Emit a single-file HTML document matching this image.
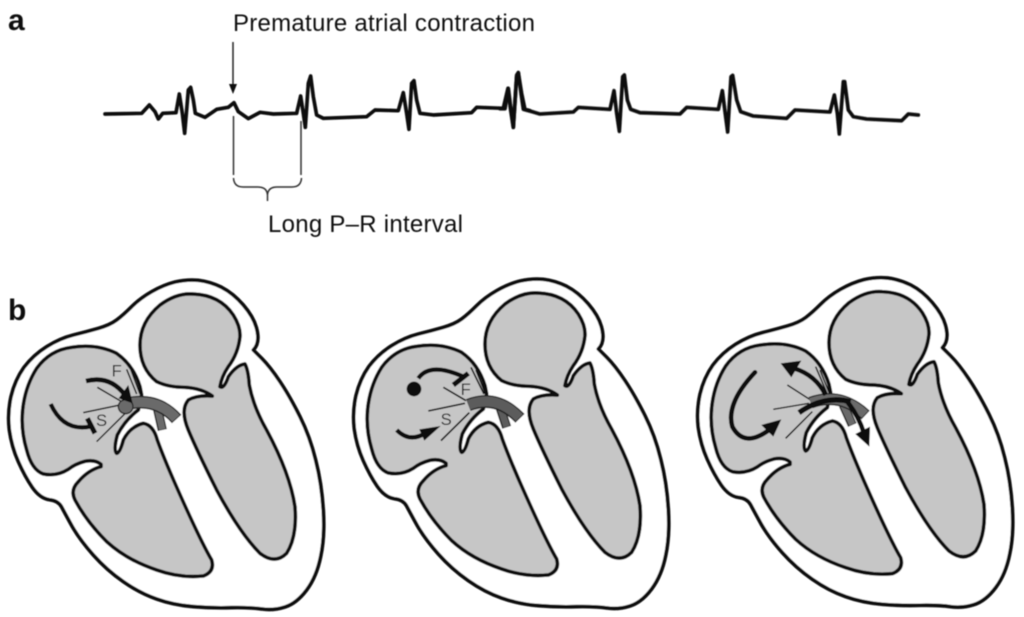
<!DOCTYPE html>
<html><head><meta charset="utf-8"><style>
html,body{margin:0;padding:0;background:#fff;width:1024px;height:617px;overflow:hidden}
svg{display:block}
text{font-family:"Liberation Sans",sans-serif;fill:#111}
</style></head><body>
<svg width="1024" height="617" viewBox="0 0 1024 617" xmlns="http://www.w3.org/2000/svg">
<defs>
<filter id="soft" x="-5%" y="-5%" width="110%" height="110%"><feGaussianBlur stdDeviation="0.45"/></filter>
<g id="heart" stroke="#0c0c0c" stroke-width="11" stroke-linejoin="round" stroke-linecap="round">
<path fill="#fff" d="M760,240 Q782,218 769,172 Q760,140 730,105 Q700,70 665,52 Q630,35 595,31 Q560,28 525,36 Q490,45 455,65 Q420,85 395,110 Q370,135 350,150 Q330,165 295,175 Q260,185 220,195 Q180,205 140,230 Q100,255 72,292 Q45,330 33,380 Q22,430 28,480 Q35,530 55,575 Q75,620 97,652 Q120,685 148,689 Q175,692 185,711 Q195,730 217,770 Q240,810 280,855 Q320,900 370,935 Q420,970 470,987 Q520,1005 580,1010 Q640,1015 695,1013 Q750,1012 785,1017 Q820,1022 855,1011 Q890,1000 920,960 Q950,920 962,860 Q975,800 970,720 Q965,640 947,570 Q930,500 900,440 Q870,380 840,335 Q810,290 785,265 Z"/>
<path fill="#c6c6c6" d="M303,583 Q285,568 255,574 Q225,582 205,598 Q170,620 130,612 Q95,600 80,540 Q62,480 68,420 Q75,350 110,295 Q150,240 215,232 Q290,220 350,250 Q400,285 420,350 L425,375 L415,420 Q375,450 352,495 Q340,540 350,550 Q360,548 370,510 Q390,470 430,460 Q460,465 472,510 Q490,560 525,640 Q600,810 635,870 Q645,905 610,918 Q540,925 470,900 Q380,870 320,815 Q260,755 225,690 Q210,660 235,635 Q265,600 303,590 Z"/>
<path fill="#c6c6c6" d="M637,378 Q605,355 555,352 Q505,352 470,335 Q420,295 420,225 Q420,155 480,105 Q530,68 580,72 Q660,75 700,135 Q722,170 720,200 Q715,250 685,290 Q665,320 660,350 Q672,358 685,320 Q710,285 735,282 Q745,300 748,345 Q760,410 800,480 Q870,610 885,710 Q892,800 860,850 Q825,885 780,850 Q720,790 650,660 Q590,540 565,480 Q540,420 565,390 Q590,375 637,378 Z"/>
</g>
</defs>
<g filter="url(#soft)">
<text x="233" y="31" font-size="24" textLength="302" lengthAdjust="spacing">Premature atrial contraction</text>
<text x="268" y="232" font-size="24" textLength="195" lengthAdjust="spacing">Long P–R interval</text>
<text x="8" y="30" font-size="30" font-weight="bold">a</text>
<text x="8" y="320" font-size="30" font-weight="bold">b</text>

<!-- ECG -->
<g fill="none" stroke="#111" stroke-width="11" stroke-linejoin="round" stroke-linecap="round">
<polyline transform="translate(90,50) scale(.3333)" points="45,192 155,190 178,165 195,185 205,207 218,190 258,188 268,132 277,190 284,250 295,120 302,112 310,150 316,190 345,202 380,178 415,172 432,158 445,185 475,206 510,187 550,192 620,190 632,138 640,190 646,232 655,100 662,78 670,140 680,195 700,205 830,200 855,180 925,182 940,128 950,190 957,238 965,100 972,92 980,150 990,190 1030,195 1145,188 1160,172 1240,175 1254,115 1262,180 1270,232 1280,80 1285,68 1295,130 1305,178 1320,182"/>
<polyline transform="translate(500,50) scale(.3333)" points="0,176 15,176 25,115 33,180 40,232 50,75 55,68 63,130 70,178 100,186 120,192 220,186 235,172 330,178 342,122 350,190 358,244 368,80 373,75 382,150 392,178 420,188 540,192 560,172 655,178 667,122 675,185 683,246 693,80 698,76 710,150 722,185 760,198 860,205 885,180 990,186 1003,135 1012,190 1018,252 1030,95 1034,95 1045,180 1060,200 1100,207 1205,212 1225,192 1255,195"/>
</g>
<!-- arrow + bracket -->
<path d="M233,42V85" stroke="#222" stroke-width="1.5" fill="none"/>
<path d="M229,84L237,84L233,94Z" fill="#111"/>
<path d="M233.500,116V175M301,121V175" stroke="#333" stroke-width="1.5" fill="none"/>
<path d="M233.500,178Q234,187 243,187H258Q267,187 267.500,195Q268,187 277,187H292Q301,187 301.500,178M267.500,192V201" stroke="#333" stroke-width="1.5" fill="none"/>

<!-- heart 1 -->
<g transform="translate(0,270) scale(.3333)">
<use href="#heart"/>
<g fill="none" stroke="#111" stroke-width="4.500"><path d="M380,298L410,372M393,300L420,372M292,352L365,395M250,428L360,405M290,515L378,428"/></g>
<path d="M470,405L487,480" fill="none" stroke="#222" stroke-width="28"/>
<path d="M470,405L487,478" fill="none" stroke="#6a6a6a" stroke-width="20"/>
<path d="M375,402Q470,380 530,447" fill="none" stroke="#222" stroke-width="38"/>
<path d="M375,402Q470,380 528,445" fill="none" stroke="#6a6a6a" stroke-width="30"/>
<ellipse cx="377" cy="410" rx="22" ry="21" fill="#6a6a6a" stroke="#222" stroke-width="4"/>
<path d="M258,333Q330,315 375,375" fill="none" stroke="#0c0c0c" stroke-width="14"/>
<path d="M356,385L385,345L398,400Z" fill="#0c0c0c"/>
<path d="M152,402Q190,485 270,470" fill="none" stroke="#0c0c0c" stroke-width="13"/>
<path d="M262,445L285,490" fill="none" stroke="#0c0c0c" stroke-width="15"/>
<text x="335" y="320" font-size="50" style="fill:#222">F</text>
<text x="288" y="468" font-size="50" style="fill:#222">S</text>
</g>

<!-- heart 2 -->
<g transform="translate(340,270) scale(.3333)">
<use href="#heart" transform="translate(15,-3)"/>
<g fill="none" stroke="#111" stroke-width="5"><path d="M393,292L432,372M408,300L437,372M310,352L378,392M265,423L375,400M303,512L388,428"/></g>
<path d="M478,405L500,472" fill="none" stroke="#222" stroke-width="28"/>
<path d="M478,405L500,470" fill="none" stroke="#5c5c5c" stroke-width="20"/>
<path d="M385,405Q470,372 540,445" fill="none" stroke="#222" stroke-width="38"/>
<path d="M385,405Q470,372 538,443" fill="none" stroke="#5c5c5c" stroke-width="30"/>
<path d="M235,325Q270,275 370,320" fill="none" stroke="#0c0c0c" stroke-width="13"/>
<path d="M340,345L385,310" fill="none" stroke="#0c0c0c" stroke-width="15"/>
<circle cx="222" cy="357" r="22" fill="#0c0c0c"/>
<path d="M170,480Q210,520 258,488" fill="none" stroke="#0c0c0c" stroke-width="13"/>
<path d="M238,478L302,468L253,512Z" fill="#0c0c0c"/>
<text x="362" y="375" font-size="50" style="fill:#222">F</text>
<text x="302" y="465" font-size="50" style="fill:#222">S</text>
</g>

<!-- heart 3 -->
<g transform="translate(684,270) scale(.3333)">
<use href="#heart" transform="translate(15,-7)"/>
<g fill="none" stroke="#111" stroke-width="4.500"><path d="M395,290L430,372M408,300L437,372M310,345L380,390M268,418L375,400M305,505L385,425"/></g>
<path d="M478,405L505,465" fill="none" stroke="#222" stroke-width="28"/>
<path d="M478,405L505,463" fill="none" stroke="#6a6a6a" stroke-width="20"/>
<path d="M380,398Q470,365 545,435" fill="none" stroke="#222" stroke-width="36"/>
<path d="M380,398Q470,365 543,433" fill="none" stroke="#6a6a6a" stroke-width="28"/>
<path d="M345,428Q420,375 500,395" fill="none" stroke="#0c0c0c" stroke-width="16"/>
<path d="M425,375Q395,315 330,295" fill="none" stroke="#0c0c0c" stroke-width="14"/>
<path d="M290,280L352,272L322,322Z" fill="#0c0c0c"/>
<path d="M490,395Q525,440 540,490" fill="none" stroke="#0c0c0c" stroke-width="14"/>
<path d="M514,492L558,470L556,530Z" fill="#0c0c0c"/>
<path d="M213,307Q125,400 145,470Q180,535 255,480" fill="none" stroke="#0c0c0c" stroke-width="14" stroke-linecap="round"/>
<path d="M232,465L292,448L268,500Z" fill="#0c0c0c"/>
</g>
</g>
</svg>
</body></html>
